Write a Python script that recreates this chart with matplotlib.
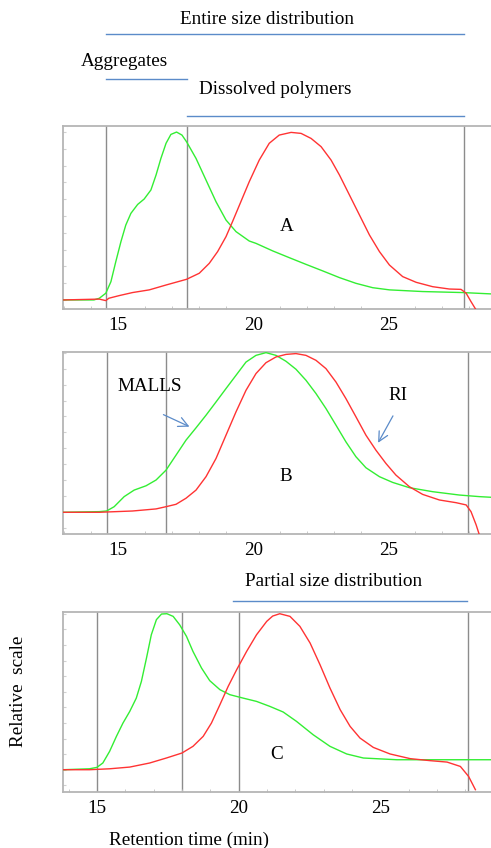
import matplotlib
matplotlib.use("Agg")
import matplotlib.pyplot as plt
from matplotlib.lines import Line2D
from matplotlib.ticker import MultipleLocator
from matplotlib.transforms import blended_transform_factory

plt.rcParams["font.family"] = ["Liberation Serif", "DejaVu Serif"]
plt.rcParams["font.size"] = 13.8

GREEN = "#33ee33"
RED = "#ff3333"
GREY = "#8c8c8c"
BLUE = "#5b8bc9"

# panel A (relative scale: 0 = baseline, 1 = peak)
a_malls_t = [12.95, 14.10, 14.30, 14.54, 14.73, 14.91, 15.10, 15.28, 15.47, 15.72, 15.96,
             16.21, 16.40, 16.58, 16.77, 16.95, 17.16, 17.36, 17.53, 17.88, 18.25,
             18.62, 18.99, 19.36, 19.85, 20.10, 20.72, 21.33, 21.95, 22.57, 23.19,
             23.80, 24.42, 25.04, 26.27, 27.75, 28.80]
a_malls_v = [0.0, 0.0, 0.01, 0.04, 0.109, 0.228, 0.347, 0.446, 0.516, 0.569, 0.601,
             0.655, 0.744, 0.843, 0.933, 0.986, 1.0, 0.982, 0.942, 0.843, 0.714,
             0.585, 0.476, 0.407, 0.351, 0.337, 0.292, 0.252, 0.212, 0.173, 0.133,
             0.099, 0.073, 0.06, 0.05, 0.044, 0.036]
a_ri_t = [12.95, 14.30, 14.54, 14.65, 15.04, 15.53, 16.15, 16.77, 17.53, 18.00, 18.37,
          18.68, 18.99, 19.23, 19.54, 19.85, 20.22, 20.59, 20.96, 21.40, 21.77,
          22.14, 22.51, 22.88, 23.19, 23.56, 23.93, 24.30, 24.67, 25.04, 25.53,
          26.03, 26.64, 27.26, 27.69, 27.88, 28.06, 28.25]
a_ri_v = [0.0, 0.005, -0.004, 0.01, 0.026, 0.044, 0.06, 0.089, 0.123, 0.159, 0.218,
          0.288, 0.377, 0.466, 0.585, 0.704, 0.833, 0.933, 0.982, 0.998, 0.992,
          0.962, 0.913, 0.833, 0.744, 0.625, 0.506, 0.387, 0.288, 0.208, 0.139,
          0.105, 0.079, 0.065, 0.063, 0.04, -0.01, -0.06]

# panel B
b_malls_t = [12.95, 14.30, 14.57, 14.85, 15.22, 15.59, 16.03, 16.40, 16.77, 17.14, 17.51,
             17.88, 18.25, 18.62, 18.99, 19.36, 19.73, 20.10, 20.47, 20.84, 21.21,
             21.58, 21.95, 22.32, 22.69, 23.06, 23.43, 23.80, 24.17, 24.67, 25.16,
             25.78, 26.64, 27.63, 28.37, 28.80]
b_malls_v = [0.0, 0.004, 0.008, 0.035, 0.098, 0.139, 0.166, 0.202, 0.264, 0.358, 0.452,
             0.529, 0.608, 0.691, 0.775, 0.858, 0.941, 0.983, 1.0, 0.983, 0.946,
             0.896, 0.827, 0.744, 0.65, 0.546, 0.441, 0.348, 0.279, 0.223, 0.187,
             0.154, 0.129, 0.108, 0.098, 0.094]
b_ri_t = [12.95, 14.30, 15.53, 16.40, 16.77, 17.14, 17.51, 17.88, 18.25, 18.62, 18.99,
          19.36, 19.73, 20.10, 20.47, 20.84, 21.21, 21.58, 21.95, 22.32, 22.69,
          23.06, 23.43, 23.80, 24.17, 24.54, 24.91, 25.28, 25.78, 26.27, 26.89,
          27.51, 27.88, 28.06, 28.25, 28.37]
b_ri_v = [0.0, 0.0, 0.008, 0.021, 0.035, 0.05, 0.088, 0.139, 0.223, 0.337, 0.483,
          0.629, 0.764, 0.869, 0.937, 0.973, 0.989, 0.994, 0.983, 0.952, 0.9,
          0.816, 0.712, 0.598, 0.483, 0.389, 0.306, 0.233, 0.16, 0.112, 0.077,
          0.06, 0.046, 0.004, -0.079, -0.142]

# panel C
c_malls_t = [13.80, 14.74, 15.00, 15.21, 15.45, 15.69, 15.92, 16.16, 16.39, 16.57, 16.75,
             16.92, 17.10, 17.28, 17.47, 17.69, 17.92, 18.16, 18.39, 18.69, 18.98,
             19.34, 19.69, 20.16, 20.63, 21.10, 21.57, 22.04, 22.63, 23.22, 23.81,
             24.40, 25.58, 28.90]
c_malls_v = [0.0, 0.006, 0.015, 0.043, 0.118, 0.214, 0.299, 0.374, 0.459, 0.566, 0.716,
             0.865, 0.962, 0.998, 1.0, 0.983, 0.929, 0.855, 0.758, 0.652, 0.571,
             0.513, 0.481, 0.459, 0.438, 0.406, 0.37, 0.31, 0.224, 0.15, 0.101,
             0.075, 0.064, 0.064]
c_ri_t = [13.80, 14.74, 15.45, 16.16, 16.86, 17.45, 18.00, 18.39, 18.75, 19.04, 19.34,
          19.63, 19.93, 20.28, 20.63, 20.99, 21.20, 21.45, 21.81, 22.16, 22.52,
          22.87, 23.22, 23.58, 23.93, 24.28, 24.75, 25.34, 26.05, 26.76, 27.35,
          27.82, 28.11, 28.35]
c_ri_v = [0.0, 0.0, 0.006, 0.017, 0.043, 0.075, 0.107, 0.15, 0.214, 0.299, 0.417,
          0.534, 0.641, 0.758, 0.865, 0.951, 0.985, 1.0, 0.983, 0.919, 0.812,
          0.673, 0.524, 0.385, 0.278, 0.203, 0.143, 0.101, 0.071, 0.058, 0.049,
          0.021, -0.043, -0.128]

# integration limits (vertical markers), min
a_marks = [14.55, 17.55, 27.8]
b_marks = [14.57, 16.77, 27.94]
c_marks = [15.0, 18.0, 20.0, 28.1]

panels = [
    # rect, xlim, ylim, malls, ri, marks, letter position
    ([0.128, 0.6356, 0.872, 0.2158], (12.95, 28.8), (-0.054, 1.036),
     (a_malls_t, a_malls_v), (a_ri_t, a_ri_v), a_marks, ("A", 21.22, 0.44)),
    ([0.128, 0.3703, 0.872, 0.2146], (12.95, 28.8), (-0.136, 1.004),
     (b_malls_t, b_malls_v), (b_ri_t, b_ri_v), b_marks, ("B", 21.21, 0.223)),
    ([0.128, 0.0660, 0.872, 0.2123], (13.8, 28.9), (-0.143, 1.011),
     (c_malls_t, c_malls_v), (c_ri_t, c_ri_v), c_marks, ("C", 21.35, 0.096)),
]

fig = plt.figure(figsize=(4.91, 8.48), dpi=100)
axes = []
for rect, xlim, ylim, malls, ri, marks, letter in panels:
    ax = fig.add_axes(rect)
    for m in marks:
        ax.axvline(m, color=GREY, lw=1.0, zorder=1)
    ax.plot(*malls, color=GREEN, lw=1.0, zorder=3)
    ax.plot(*ri, color=RED, lw=1.0, zorder=3)
    ax.text(letter[1], letter[2], letter[0], ha="center", va="center")
    ax.set_xlim(*xlim)
    ax.set_ylim(*ylim)
    ax.xaxis.set_major_locator(MultipleLocator(5))
    ax.xaxis.set_minor_locator(MultipleLocator(1))
    ax.yaxis.set_major_locator(MultipleLocator(0.1))
    ax.tick_params(axis="x", which="major", length=0, pad=6)
    ax.tick_params(axis="x", which="minor", length=2, direction="in", color="#c0c0c0")
    ax.tick_params(axis="y", length=2, direction="in", color="#d0d0d0", labelleft=False)
    for side in ("left", "top", "bottom"):
        ax.spines[side].set_color("#b5b5b5")
        ax.spines[side].set_linewidth(1.3)
    ax.spines["right"].set_visible(False)
    axes.append(ax)

axA, axB, axC = axes

# B: detector labels with arrows
arrow = dict(arrowstyle="->,head_length=0.5,head_width=0.25", color=BLUE, lw=0.9)
axB.annotate("", xy=(17.73, 0.529), xytext=(16.58, 0.619), arrowprops=arrow)
axB.text(16.15, 0.785, "MALLS", ha="center", va="center")
axB.annotate("", xy=(24.57, 0.42), xytext=(25.22, 0.619), arrowprops=arrow)
axB.text(25.35, 0.733, "RI", ha="center", va="center")

# range brackets above panels (x in data, y in figure fraction)
H = 848.0
trA = blended_transform_factory(axA.transData, fig.transFigure)
trC = blended_transform_factory(axC.transData, fig.transFigure)
spans = [
    (trA, "Entire size distribution", 20.52, 20, 14.55, 27.8, 34),
    (trA, "Aggregates", 15.24, 62, 14.55, 17.55, 79),
    (trA, "Dissolved polymers", 20.8, 89, 17.55, 27.8, 115.5),
    (trC, "Partial size distribution", 23.33, 581, 19.8, 28.05, 601),
]
for tr, label, tx, ty, x0, x1, ly in spans:
    fig.text(tx, 1 - ty / H, label, transform=tr, ha="center", va="center")
    fig.add_artist(Line2D([x0, x1], [1 - ly / H, 1 - ly / H], transform=tr,
                          color=BLUE, lw=1.0))

axC.text(-0.103, 0.56, "Relative  scale", rotation=90, ha="center", va="center",
         transform=axC.transAxes)
axC.set_xlabel("Retention time (min)")
axC.xaxis.set_label_coords(0.294, -0.22)

fig.savefig("out.png", dpi=100)
